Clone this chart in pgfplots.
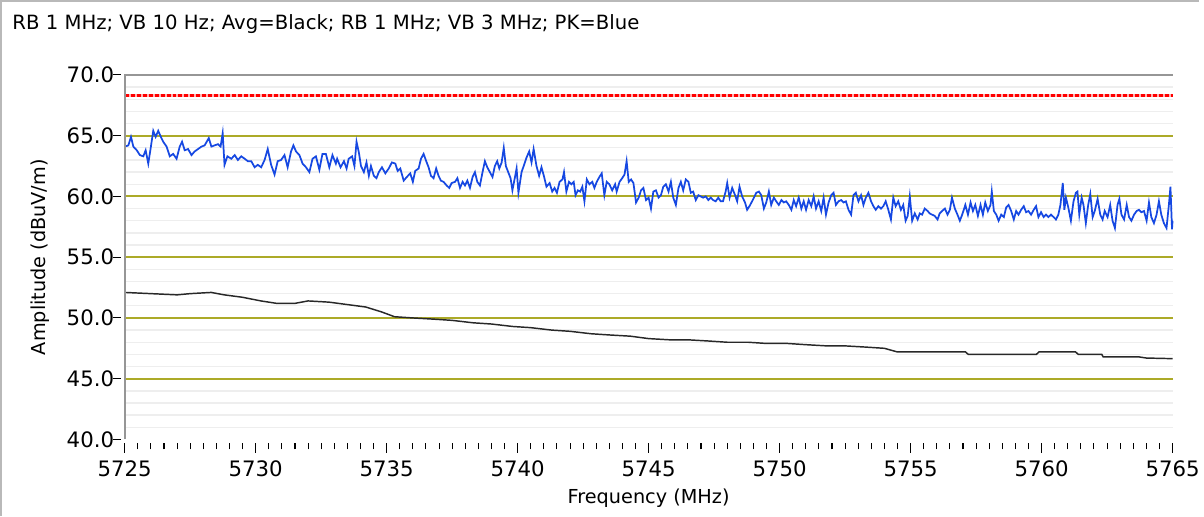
\documentclass[border=0pt]{standalone}
\usepackage{pgfplots}
\pgfplotsset{compat=1.18}
\usepackage{fontspec}
\setmainfont{DejaVu Sans}
\definecolor{olivegrid}{RGB}{172,170,40}
\definecolor{tracepk}{RGB}{22,72,226}
\definecolor{axgray}{RGB}{150,150,150}
\definecolor{avgline}{RGB}{40,40,40}
\begin{document}
\begin{tikzpicture}
\path[fill=white] (0pt,0pt) rectangle (903pt,388.5pt);
\draw[gray!55, line width=1.2pt] (0.45pt,0pt) -- (0.45pt,388.05pt) -- (903pt,388.05pt);
\node[anchor=base west, inner sep=0, font=\fontsize{14.8}{17}\selectfont] at (9pt,366.75pt) {RB 1 MHz; VB 10 Hz; Avg=Black; RB 1 MHz; VB 3 MHz; PK=Blue};
\begin{axis}[
  at={(93.75pt,57.75pt)}, anchor=south west, scale only axis,
  width=789pt, height=274.5pt,
  xmin=5725, xmax=5765, ymin=40, ymax=70,
  axis line style={draw=none},
  clip=false,
  tick align=outside,
  xtick={5725,5730,...,5765}, minor x tick num=9,
  ytick={40,45,...,70},
  xtick pos=left, ytick pos=left,
  major tick length=7pt, minor tick length=4.5pt,
  every tick/.style={black, line width=0.8pt},
  every x tick/.append style={yshift=-3pt},
  every y tick/.append style={draw=none},
  /pgf/number format/assume math mode=true,
  xticklabel style={font=\fontsize{16}{19}\selectfont, yshift=-5.5pt, /pgf/number format/1000 sep={}},
  yticklabel style={font=\fontsize{16}{19}\selectfont, xshift=2.5pt, /pgf/number format/.cd, fixed, fixed zerofill, precision=1},
  xlabel={Frequency (MHz)}, ylabel={Amplitude (dBuV/m)},
  every axis y label/.style={at={(rel axis cs:-0.0808,0.5)}, rotate=90, anchor=center, font=\fontsize{14.5}{17}\selectfont},
  every axis x label/.style={at={(rel axis cs:0.5,-0.16)}, anchor=center, font=\fontsize{14.5}{17}\selectfont},
]
\pgfplotsinvokeforeach{41,42,43,44,46,47,48,49,51,52,53,54,56,57,58,59,61,62,63,64,66,67,68,69}{
  \draw[gray!13, line width=1pt] (axis cs:5725,#1) -- (axis cs:5765,#1);
}
\pgfplotsinvokeforeach{45,50,55,60,65}{
  \draw[olivegrid, line width=1.5pt] (axis cs:5725,#1) -- (axis cs:5765,#1);
}
\pgfplotsinvokeforeach{40,45,50,55,60,65,70}{
  \draw[black, line width=0.8pt] ([xshift=-3pt]axis cs:5725,#1) -- ([xshift=-9pt]axis cs:5725,#1);
}
\addplot[red!30, line width=2pt] coordinates {(5725,68.3) (5765,68.3)};
\addplot[red, line width=2pt, dash pattern=on 3pt off 1.5pt] coordinates {(5725,68.3) (5765,68.3)};
\addplot[avgline, line width=1.1pt] coordinates {
(5725.0,52.1) (5726.0,52.0) (5727.0,51.9) (5727.5,52.0) (5728.3,52.1) (5728.8,51.9)
(5729.5,51.7) (5730.2,51.4) (5730.8,51.2) (5731.5,51.2) (5732.0,51.4) (5732.8,51.3)
(5733.5,51.1) (5734.2,50.9) (5734.8,50.5) (5735.3,50.1) (5736.0,50.0) (5736.8,49.9)
(5737.5,49.8) (5738.3,49.6) (5739.0,49.5) (5739.8,49.3) (5740.5,49.2) (5741.3,49.0)
(5742.0,48.9) (5742.8,48.7) (5743.5,48.6) (5744.3,48.5) (5745.0,48.3) (5745.8,48.2)
(5746.5,48.2) (5747.3,48.1) (5748.0,48.0) (5748.8,48.0) (5749.5,47.9) (5750.3,47.9)
(5751.0,47.8) (5751.8,47.7) (5752.5,47.7) (5753.3,47.6) (5754.0,47.5) (5754.5,47.2)
(5757.1,47.2) (5757.2,47.0) (5759.8,47.0) (5759.9,47.2) (5761.3,47.2) (5761.4,47.0)
(5762.3,47.0) (5762.35,46.8) (5763.7,46.8) (5764.0,46.7) (5765.0,46.65)
};
\addplot[tracepk, line width=1.3pt] coordinates {
(5725.00,64.1) (5725.14,64.2) (5725.24,64.9) (5725.33,64.1) (5725.46,63.8) (5725.58,63.4)
(5725.71,63.3) (5725.80,63.8) (5725.90,62.7) (5726.00,64.1) (5726.09,65.4) (5726.18,64.9)
(5726.28,65.4) (5726.38,64.9) (5726.47,64.5) (5726.60,64.1) (5726.72,63.3) (5726.85,63.5)
(5726.98,63.1) (5727.10,64.1) (5727.19,64.5) (5727.29,63.8) (5727.42,63.9) (5727.55,63.4)
(5727.67,63.7) (5727.80,63.9) (5727.93,64.1) (5728.05,64.2) (5728.21,64.8) (5728.31,64.1)
(5728.43,64.2) (5728.56,64.3) (5728.66,64.1) (5728.74,65.2) (5728.81,62.6) (5728.92,63.3)
(5729.07,63.1) (5729.20,63.4) (5729.32,63.0) (5729.45,63.3) (5729.58,63.1) (5729.70,62.9)
(5729.83,62.9) (5729.96,62.4) (5730.08,62.6) (5730.21,62.4) (5730.34,63.0) (5730.46,63.9)
(5730.59,62.6) (5730.72,61.8) (5730.84,62.9) (5730.97,63.0) (5731.10,63.4) (5731.22,62.4)
(5731.35,63.7) (5731.44,64.2) (5731.54,63.7) (5731.67,63.4) (5731.79,62.7) (5731.92,62.4)
(5732.05,62.0) (5732.17,63.1) (5732.30,63.3) (5732.43,62.2) (5732.55,63.5) (5732.68,63.5)
(5732.81,62.4) (5732.93,63.4) (5733.06,62.7) (5733.11,63.1) (5733.24,62.4) (5733.37,62.9)
(5733.47,62.3) (5733.55,63.1) (5733.68,63.3) (5733.77,62.5) (5733.85,64.5) (5733.94,63.6)
(5734.02,62.5) (5734.13,62.0) (5734.23,62.8) (5734.32,61.7) (5734.40,62.5) (5734.51,61.7)
(5734.61,61.5) (5734.70,62.0) (5734.82,62.4) (5734.95,61.9) (5735.08,62.3) (5735.20,62.8)
(5735.33,62.7) (5735.42,62.1) (5735.52,62.3) (5735.65,61.3) (5735.77,61.6) (5735.90,61.9)
(5736.00,61.2) (5736.09,62.1) (5736.22,62.3) (5736.31,63.1) (5736.41,63.5) (5736.51,62.9)
(5736.60,62.4) (5736.69,61.7) (5736.79,61.5) (5736.89,62.3) (5736.98,61.7) (5737.07,61.3)
(5737.17,61.2) (5737.29,60.9) (5737.39,60.7) (5737.48,61.1) (5737.61,61.2) (5737.70,61.5)
(5737.80,60.7) (5737.90,61.2) (5737.99,60.9) (5738.08,61.3) (5738.18,60.7) (5738.28,61.6)
(5738.37,62.0) (5738.46,61.2) (5738.56,60.9) (5738.66,62.0) (5738.75,62.9) (5738.84,62.4)
(5738.94,62.0) (5739.04,61.6) (5739.13,62.5) (5739.22,62.9) (5739.30,62.3) (5739.39,62.8)
(5739.47,64.0) (5739.55,62.5) (5739.64,62.0) (5739.73,61.5) (5739.80,60.5) (5739.89,61.5)
(5739.96,62.3) (5740.03,60.3) (5740.15,62.0) (5740.23,62.5) (5740.34,63.2) (5740.44,63.7)
(5740.53,62.8) (5740.61,63.9) (5740.72,62.5) (5740.82,61.7) (5740.91,62.4) (5741.00,61.7)
(5741.10,60.8) (5741.22,61.1) (5741.32,60.4) (5741.41,60.7) (5741.50,60.3) (5741.60,61.2)
(5741.71,61.4) (5741.77,62.0) (5741.86,60.4) (5741.96,61.2) (5742.05,61.0) (5742.14,61.2)
(5742.21,60.1) (5742.30,60.5) (5742.39,60.4) (5742.47,60.8) (5742.55,59.6) (5742.64,61.4)
(5742.74,61.0) (5742.85,61.2) (5742.93,60.7) (5743.02,61.2) (5743.12,61.6) (5743.21,61.9)
(5743.31,60.1) (5743.40,61.2) (5743.50,61.0) (5743.61,60.5) (5743.72,61.0) (5743.78,60.4)
(5743.89,61.2) (5743.99,61.5) (5744.08,61.8) (5744.16,62.9) (5744.24,61.2) (5744.33,61.4)
(5744.42,61.1) (5744.52,59.5) (5744.62,59.9) (5744.71,60.5) (5744.80,60.7) (5744.90,59.7)
(5745.00,59.9) (5745.09,59.0) (5745.18,60.4) (5745.28,60.5) (5745.38,59.9) (5745.47,60.1)
(5745.56,60.8) (5745.66,61.0) (5745.76,60.4) (5745.85,61.2) (5745.94,59.9) (5746.04,59.3)
(5746.14,60.7) (5746.23,61.2) (5746.32,60.5) (5746.42,61.4) (5746.52,61.2) (5746.61,60.3)
(5746.70,60.4) (5746.80,59.7) (5746.90,60.1) (5746.99,60.0) (5747.08,59.9) (5747.18,60.0)
(5747.28,59.7) (5747.37,59.9) (5747.46,59.7) (5747.56,59.6) (5747.66,59.9) (5747.75,59.6)
(5747.84,59.6) (5747.94,60.4) (5748.00,61.1) (5748.09,59.9) (5748.19,60.7) (5748.30,60.1)
(5748.38,59.6) (5748.47,60.8) (5748.57,60.0) (5748.68,59.5) (5748.76,58.9) (5748.85,59.2)
(5748.95,59.6) (5749.02,59.9) (5749.11,60.3) (5749.21,60.4) (5749.30,60.1) (5749.40,59.0)
(5749.49,59.5) (5749.59,60.4) (5749.68,59.3) (5749.78,59.9) (5749.87,59.6) (5749.97,59.3)
(5750.07,59.7) (5750.16,59.5) (5750.25,59.6) (5750.35,59.3) (5750.45,58.9) (5750.54,59.7)
(5750.63,59.2) (5750.73,59.9) (5750.83,59.0) (5750.92,59.6) (5751.01,58.9) (5751.11,59.7)
(5751.21,59.2) (5751.30,60.0) (5751.39,59.0) (5751.49,59.6) (5751.59,58.8) (5751.68,59.9)
(5751.77,58.5) (5751.87,59.5) (5751.97,60.1) (5752.06,60.3) (5752.15,59.3) (5752.25,59.6)
(5752.35,59.7) (5752.44,59.5) (5752.53,59.6) (5752.63,58.9) (5752.73,58.5) (5752.82,60.1)
(5752.91,60.3) (5753.01,59.6) (5753.11,60.1) (5753.20,59.3) (5753.29,59.9) (5753.39,60.3)
(5753.49,59.6) (5753.58,59.2) (5753.67,58.9) (5753.77,59.2) (5753.87,59.0) (5753.96,59.2)
(5754.05,59.6) (5754.15,58.9) (5754.25,58.1) (5754.34,59.9) (5754.43,59.2) (5754.53,59.6)
(5754.63,58.9) (5754.72,59.3) (5754.81,58.0) (5754.89,58.4) (5754.97,60.0) (5755.06,58.0)
(5755.16,58.6) (5755.27,58.1) (5755.35,58.6) (5755.44,58.5) (5755.54,59.0) (5755.65,58.8)
(5755.73,58.6) (5755.82,58.5) (5755.92,58.4) (5756.03,58.1) (5756.11,58.6) (5756.20,58.8)
(5756.31,59.0) (5756.41,58.5) (5756.50,58.9) (5756.58,59.9) (5756.69,59.0) (5756.79,58.5)
(5756.88,58.0) (5756.97,58.5) (5757.09,59.3) (5757.19,58.5) (5757.29,59.5) (5757.38,58.8)
(5757.47,59.3) (5757.57,58.4) (5757.67,59.3) (5757.76,58.5) (5757.85,59.5) (5757.95,58.8)
(5758.05,59.3) (5758.10,60.4) (5758.18,58.8) (5758.27,58.5) (5758.36,58.0) (5758.46,58.5)
(5758.56,58.3) (5758.65,59.1) (5758.74,59.3) (5758.84,58.8) (5758.94,58.1) (5759.03,58.8)
(5759.12,58.5) (5759.22,58.9) (5759.32,59.2) (5759.41,58.7) (5759.50,58.8) (5759.60,58.5)
(5759.70,58.9) (5759.79,59.2) (5759.88,58.3) (5759.98,58.7) (5760.08,58.3) (5760.17,58.5)
(5760.26,58.3) (5760.36,58.5) (5760.46,58.3) (5760.55,58.1) (5760.64,58.5) (5760.72,59.3)
(5760.81,61.1) (5760.87,58.9) (5760.93,59.9) (5761.02,59.1) (5761.12,58.0) (5761.22,59.6)
(5761.31,60.3) (5761.37,60.4) (5761.44,58.5) (5761.53,59.9) (5761.60,59.3) (5761.69,57.8)
(5761.78,59.3) (5761.86,60.2) (5761.95,58.3) (5762.03,58.8) (5762.14,59.8) (5762.24,58.5)
(5762.33,58.1) (5762.41,58.8) (5762.52,58.3) (5762.62,59.3) (5762.71,58.0) (5762.80,57.4)
(5762.90,59.3) (5762.97,59.8) (5763.05,58.5) (5763.15,58.1) (5763.25,59.3) (5763.34,58.3)
(5763.43,58.0) (5763.53,58.5) (5763.63,58.8) (5763.72,58.9) (5763.81,58.7) (5763.91,58.8)
(5764.01,58.0) (5764.10,59.5) (5764.19,58.3) (5764.29,57.8) (5764.39,58.5) (5764.48,59.6)
(5764.57,58.5) (5764.67,57.8) (5764.77,57.4) (5764.86,59.3) (5764.92,60.8) (5764.98,57.3)
(5765.00,58.0)
};
\draw[axgray, line width=1.5pt] (rel axis cs:0,0) -- (rel axis cs:0,1) -- (rel axis cs:1,1);
\end{axis}
\end{tikzpicture}
\end{document}
